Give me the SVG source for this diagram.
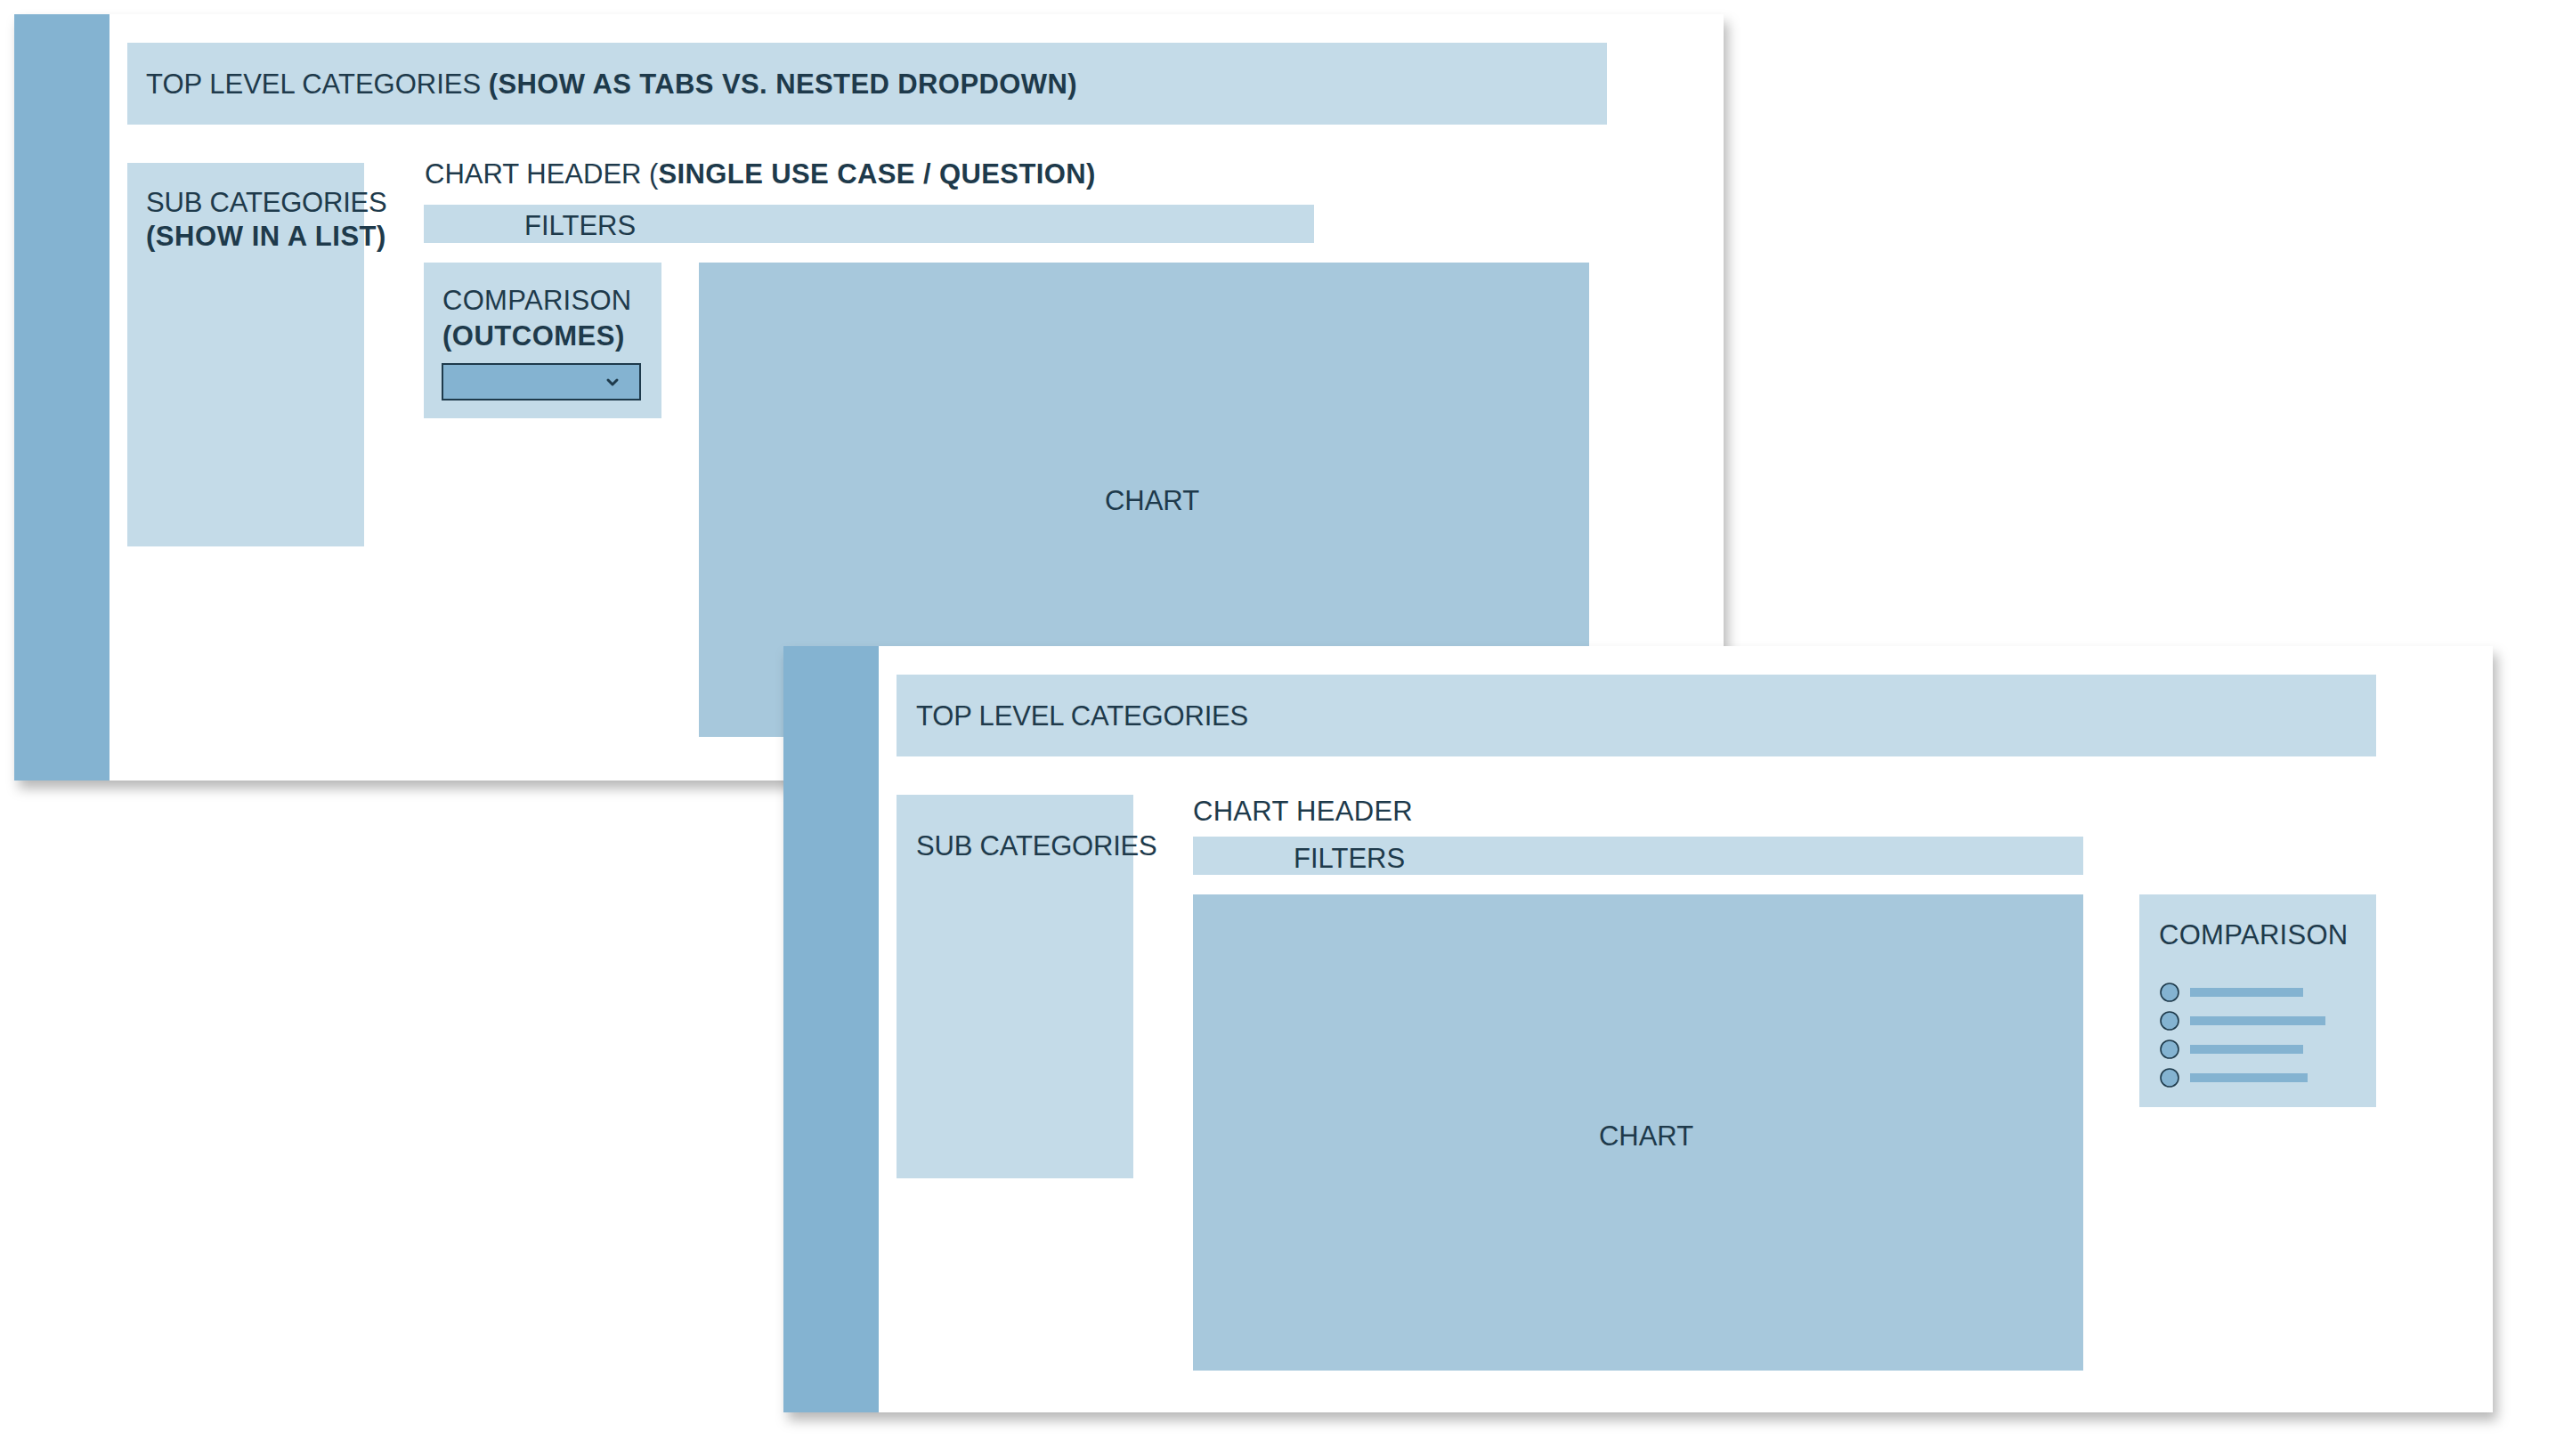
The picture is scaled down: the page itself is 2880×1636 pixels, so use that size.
<svg xmlns="http://www.w3.org/2000/svg" width="2880" height="1636" viewBox="0 0 2880 1636">
  <defs>
    <filter id="shadow" x="-5%" y="-5%" width="112%" height="115%">
      <feDropShadow dx="5" dy="9" stdDeviation="7" flood-color="#000" flood-opacity="0.28"/>
    </filter>
  </defs>
  <style>
    .panel { fill: #ffffff; }
    .side { fill: #84b3d1; }
    .light { fill: #c4dbe8; }
    .chart { fill: #a7c8dc; }
    .txt { font-family: "Liberation Sans", Arial, sans-serif; font-size: 31px; fill: #1e3a4b; }
    .b { font-weight: bold; letter-spacing: 0.6px; }
    .mid { text-anchor: middle; }
    .dd { fill: #84b3d1; stroke: #1e3a4b; stroke-width: 2; }
    .chev { fill: none; stroke: #1e3a4b; stroke-width: 3; stroke-linecap: round; stroke-linejoin: round; }
    .radio { fill: #84b3d1; stroke: #1e3a4b; stroke-width: 1.6; }
    .bar { fill: #84b3d1; }
  </style>
  <rect width="2880" height="1636" fill="#ffffff"/>

  <g id="wireframe-1">
    <rect id="panel-1" class="panel" x="16" y="16" width="1920" height="861" filter="url(#shadow)"/>
    <rect id="sidebar-1" class="side" x="16" y="16" width="107" height="861"/>
    <g id="top-categories-1">
      <rect class="light" x="143" y="48" width="1662" height="92"/>
      <text class="txt" x="164" y="105">TOP LEVEL CATEGORIES <tspan class="b" style="letter-spacing:0.4px">(SHOW AS TABS VS. NESTED DROPDOWN)</tspan></text>
    </g>
    <g id="sub-categories-1">
      <rect class="light" x="143" y="183" width="266" height="431"/>
      <text class="txt" x="164" y="238" style="letter-spacing:-0.2px">SUB CATEGORIES</text>
      <text class="txt b" x="164" y="276" style="letter-spacing:0.55px">(SHOW IN A LIST)</text>
    </g>
    <g id="chart-header-1">
      <text class="txt" x="477" y="206">CHART HEADER (<tspan class="b" style="letter-spacing:0.4px">SINGLE USE CASE / QUESTION)</tspan></text>
    </g>
    <g id="filters-1">
      <rect class="light" x="476" y="230" width="1000" height="43"/>
      <text class="txt" x="589" y="264">FILTERS</text>
    </g>
    <g id="comparison-1">
      <rect class="light" x="476" y="295" width="267" height="175"/>
      <text class="txt" x="497" y="348" style="letter-spacing:0.3px">COMPARISON</text>
      <text class="txt b" x="497" y="388" style="letter-spacing:0.5px">(OUTCOMES)</text>
      <rect class="dd" x="497" y="409" width="222" height="40"/>
      <polyline class="chev" points="683,427 688,432 693,427"/>
    </g>
    <g id="chart-1">
      <rect class="chart" x="785" y="295" width="1000" height="533"/>
      <text class="txt mid" x="1294" y="573">CHART</text>
    </g>
  </g>

  <g id="wireframe-2">
    <rect id="panel-2" class="panel" x="880" y="726" width="1920" height="861" filter="url(#shadow)"/>
    <rect id="sidebar-2" class="side" x="880" y="726" width="107" height="861"/>
    <g id="top-categories-2">
      <rect class="light" x="1007" y="758" width="1662" height="92"/>
      <text class="txt" x="1029" y="815" style="letter-spacing:-0.15px">TOP LEVEL CATEGORIES</text>
    </g>
    <g id="sub-categories-2">
      <rect class="light" x="1007" y="893" width="266" height="431"/>
      <text class="txt" x="1029" y="961" style="letter-spacing:-0.2px">SUB CATEGORIES</text>
    </g>
    <g id="chart-header-2">
      <text class="txt" x="1340" y="922" style="letter-spacing:0.3px">CHART HEADER</text>
    </g>
    <g id="filters-2">
      <rect class="light" x="1340" y="940" width="1000" height="43"/>
      <text class="txt" x="1453" y="975">FILTERS</text>
    </g>
    <g id="chart-2">
      <rect class="chart" x="1340" y="1005" width="1000" height="535"/>
      <text class="txt mid" x="1849" y="1287">CHART</text>
    </g>
    <g id="comparison-2">
      <rect class="light" x="2403" y="1005" width="266" height="239"/>
      <text class="txt" x="2425" y="1061" style="letter-spacing:0.3px">COMPARISON</text>
      <circle class="radio" cx="2437" cy="1115" r="10"/>
      <rect class="bar" x="2460" y="1110" width="127" height="10"/>
      <circle class="radio" cx="2437" cy="1147" r="10"/>
      <rect class="bar" x="2460" y="1142" width="152" height="10"/>
      <circle class="radio" cx="2437" cy="1179" r="10"/>
      <rect class="bar" x="2460" y="1174" width="127" height="10"/>
      <circle class="radio" cx="2437" cy="1211" r="10"/>
      <rect class="bar" x="2460" y="1206" width="132" height="10"/>
    </g>
  </g>

  <g id="connectors"></g>
</svg>
